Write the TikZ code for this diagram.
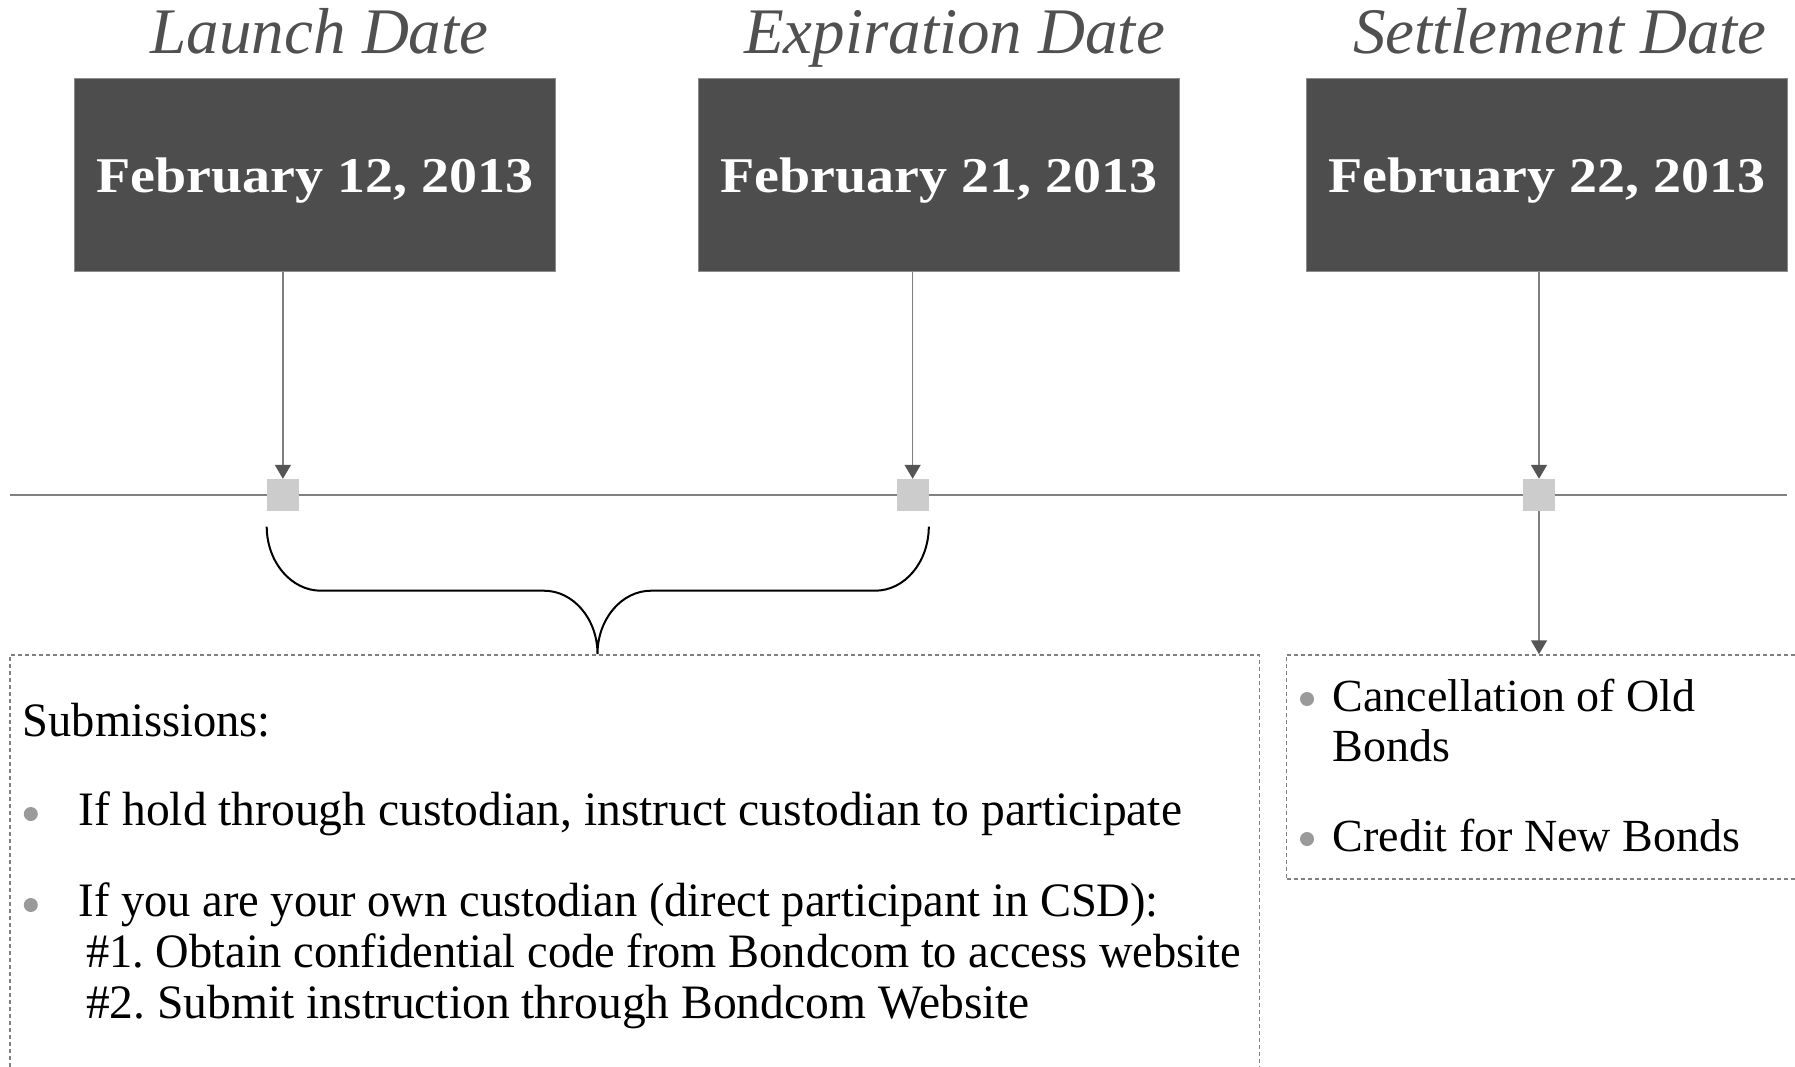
\documentclass[tikz,border=0pt]{standalone}
\usepackage{fontspec}
\setmainfont{Liberation Serif}
\newfontfamily\datefont[FakeStretch=1.12]{Liberation Serif}
\newfontfamily\bodyA[FakeStretch=0.99]{Liberation Serif}
\newfontfamily\bodyB[FakeStretch=0.968]{Liberation Serif}
\usetikzlibrary{arrows.meta}
\definecolor{boxgray}{HTML}{4D4D4D}
\definecolor{bordergray}{HTML}{8C8C8C}
\definecolor{titlegray}{HTML}{505050}
\definecolor{linegray}{HTML}{808080}
\definecolor{arrowgray}{HTML}{555555}
\definecolor{markgray}{HTML}{CCCCCC}
\definecolor{bulletgray}{HTML}{9A9A9A}
\frenchspacing
\begin{document}
\begin{tikzpicture}[x=1pt,y=-1pt,
  title/.style={font=\fontsize{65}{70}\selectfont\itshape, text=titlegray, anchor=base, inner sep=0pt},
  datebox/.style={fill=boxgray, draw=bordergray, line width=1pt, minimum width=481pt, minimum height=193pt,
    inner sep=0pt, text=white, font=\datefont\bfseries\fontsize{50}{60}\selectfont, text height=40pt, text depth=4.2pt},
  marker/.style={fill=markgray, minimum size=32pt, inner sep=0pt},
  conn/.style={draw=linegray, line width=1.5pt, -{Triangle[width=16pt,length=14pt,color=arrowgray,fill=arrowgray]}},
  timeline/.style={draw=linegray, line width=2pt},
  dashbox/.style={draw=linegray, dash pattern=on 4pt off 3pt, line width=1.5pt, inner sep=0pt},
  brace/.style={draw=black, line width=2pt},
  bodyL/.style={font=\bodyA\fontsize{48}{51}\selectfont, anchor=base west, inner sep=0pt},
  bodyLc/.style={font=\bodyB\fontsize{48}{51}\selectfont, anchor=base west, inner sep=0pt},
  bodyR/.style={font=\fontsize{46}{50}\selectfont, anchor=base west, inner sep=0pt},
  bullet/.style={circle, fill=bulletgray, minimum size=14pt, inner sep=0pt}
]
\useasboundingbox (0,0) rectangle (1795,1066);
\clip (0,0) rectangle (1795,1066);
\fill[white] (0,0) rectangle (1795,1066);

% titles
\node[title] (t1) at (319.6,53) {Launch Date};
\node[title] (t2) at (954.5,53) {Expiration Date};
\node[title] (t3) at (1560,53) {Settlement Date};

% date boxes
\node[datebox] (box1) at (314.8,174.8) {February 12, 2013};
\node[datebox] (box2) at (938.7,174.8) {February 21, 2013};
\node[datebox] (box3) at (1546.6,174.8) {February 22, 2013};

% timeline
\coordinate (tlL) at (10,495);
\coordinate (tlR) at (1787,495);
\draw[timeline] (tlL) -- (tlR);

% markers
\node[marker] (sq1) at (282.9,495) {};
\node[marker] (sq2) at (912.6,495) {};
\node[marker] (sq3) at (1539,495) {};

% arrows from date boxes
\draw[conn] (sq1 |- box1.south) -- (sq1.north);
\draw[conn] (sq2 |- box2.south) -- (sq2.north);
\draw[conn] (sq3 |- box3.south) -- (sq3.north);

% text boxes
\node[dashbox, minimum width=1249.5pt, minimum height=425pt] (lbox) at (634.75,867.5) {};
\node[dashbox, minimum width=513.4pt, minimum height=224pt] (rbox) at (1543.3,767) {};

% arrow to settlement box
\draw[conn] (sq3.south) -- (sq3.south |- rbox.north);

% brace
\draw[brace] (sq1.west |- 0,526.7) .. controls (266.9,562) and (291,590.7) .. (321,590.7)
  -- (544,590.7) .. controls (573.4,590.7) and (597.5,619) .. (597.5,654)
  .. controls (597.5,619) and (621.6,590.7) .. (651,590.7)
  -- (875,590.7) .. controls (905,590.7) and (928.6,562) .. (sq2.east |- 0,526.7);

% left text
\node[bodyLc] (sub) at (22.7,736.7) {Submissions:};
\node[bullet] (b1) at (30.8,814) {};
\node[bodyL] (l1) at (78.6,825.5) {If hold through custodian, instruct custodian to participate};
\node[bullet] (b2) at (30.8,905) {};
\node[bodyLc] (l2) at (78.6,916.5) {If you are your own custodian (direct participant in CSD):};
\node[bodyLc] (l3) at (85.9,967.5) {\#1. Obtain confidential code from Bondcom to access website};
\node[bodyL] (l4) at (85.9,1018.5) {\#2. Submit instruction through Bondcom Website};

% right text
\node[bullet] (b3) at (1307,699) {};
\node[bodyR] (r1) at (1332.5,711.7) {Cancellation of Old};
\node[bodyR] (r2) at (1332.5,761.7) {Bonds};
\node[bullet] (b4) at (1307,839) {};
\node[bodyR] (r3) at (1332.5,851.7) {Credit for New Bonds};
\end{tikzpicture}
\end{document}
